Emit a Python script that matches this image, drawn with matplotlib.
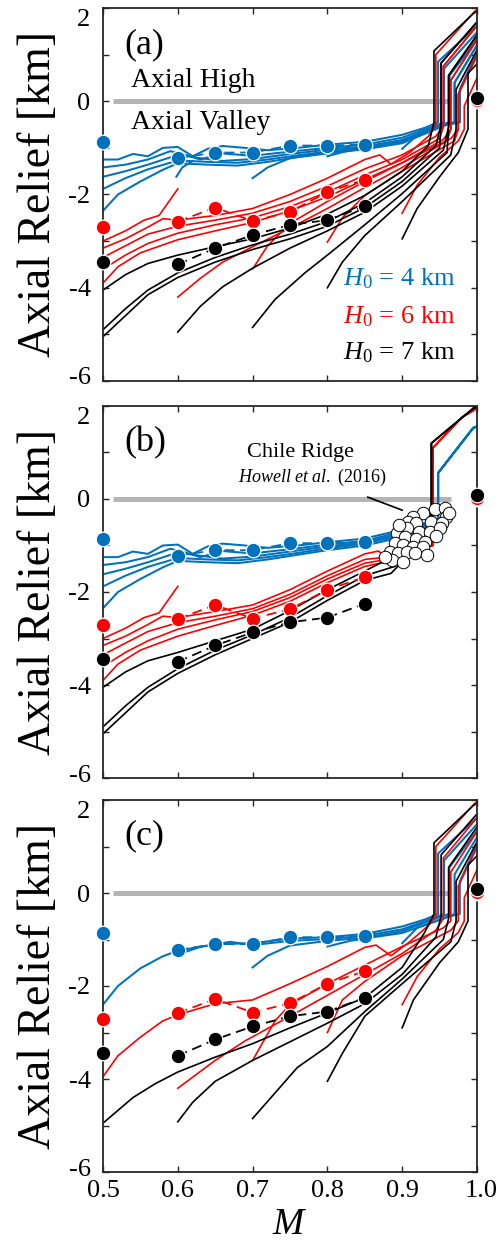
import matplotlib
matplotlib.use('Agg')
import matplotlib.pyplot as plt
from matplotlib.ticker import FixedLocator, FuncFormatter
from matplotlib.transforms import ScaledTranslation

plt.rcParams['font.family'] = ['Liberation Serif', 'DejaVu Serif']
plt.rcParams['mathtext.fontset'] = 'custom'
plt.rcParams['mathtext.rm'] = 'Liberation Serif'
plt.rcParams['mathtext.it'] = 'Liberation Serif:italic'

BLUE = '#0072BD'
RED = '#FF0000'
BLACK = '#000000'
GRAY = '#B4B4B4'

# ---------------- markers (same in all panels) ----------------
marker_M = [0.5, 0.6, 0.65, 0.7, 0.75, 0.8, 0.85]
blue_marker_R = [-0.87, -1.22, -1.10, -1.10, -0.95, -0.95, -0.93]
red_marker_R = [-2.70, -2.58, -2.28, -2.57, -2.37, -1.95, -1.68]
black_marker_R = [-3.45, -3.50, -3.15, -2.87, -2.65, -2.55, -2.25]
end_M = 1.0
end_blue_R = 0.00
end_red_R = 0.03
end_black_R = 0.08

# ---------------- tails (jump to axial high) ----------------
blu_tail_1 = [(0.948, -0.45), (0.948, 0.85), (1.0, 1.62)]
blu_tail_2 = [(0.956, -0.45), (0.956, 0.70), (1.0, 1.48)]
blu_tail_3 = [(0.963, -0.45), (0.963, 0.55), (1.0, 1.34)]
blu_tail_4 = [(0.970, -0.45), (0.970, 0.40), (1.0, 1.20)]
blu_tail_5 = [(0.977, -0.45), (0.977, 0.25), (1.0, 1.05)]
red_tail_1 = [(0.945, -0.50), (0.945, 1.00), (0.997, 1.93), (1.0, 1.96)]
red_tail_2 = [(0.955, -0.55), (0.955, 0.75), (1.0, 1.62)]
red_tail_3 = [(0.965, -0.60), (0.965, 0.45), (1.0, 1.32)]
red_tail_4 = [(0.975, -0.60), (0.975, 0.15), (1.0, 0.98)]
red_tail_5 = [(0.983, -0.60), (0.983, -0.10), (1.0, 0.50)]
blk_tail_1 = [(0.9425, -0.45), (0.9425, 1.08), (0.995, 1.88), (1.0, 1.93)]
blk_tail_2 = [(0.952, -0.50), (0.952, 0.82), (1.0, 1.70)]
blk_tail_3 = [(0.962, -0.55), (0.962, 0.55), (1.0, 1.42)]
blk_tail_4 = [(0.972, -0.60), (0.972, 0.25), (1.0, 1.10)]
blk_tail_5 = [(0.988, -0.60), (0.988, 0.60), (1.0, 0.80)]
blu_tail_b = [(0.948, -0.42), (0.948, 0.56), (0.995, 1.53), (1.0, 1.56)]
red_tail_b = [(0.941, -1.00), (0.941, 1.10), (0.98, 1.76), (1.0, 1.95)]
blk_tail_b = [(0.939, -0.80), (0.939, 1.20), (0.995, 1.95), (1.0, 1.98)]

# ---------------- panel (a) ----------------
a_blue_1 = [(0.50, -1.25), (0.52, -1.25), (0.54, -1.13), (0.56, -1.18), (0.58, -1.00), (0.60, -0.98), (0.62, -1.18), (0.64, -1.02), (0.66, -0.96), (0.69, -1.00), (0.72, -1.05), (0.76, -1.00), (0.80, -0.93), (0.85, -0.87), (0.90, -0.72), (0.93, -0.57)]
a_blue_2 = [(0.50, -1.42), (0.53, -1.36), (0.56, -1.25), (0.59, -1.07), (0.61, -1.15), (0.63, -1.25), (0.66, -1.12), (0.70, -1.17), (0.75, -1.08), (0.80, -1.00), (0.85, -0.93), (0.90, -0.78), (0.94, -0.55)]
a_blue_3 = [(0.50, -1.62), (0.53, -1.50), (0.56, -1.36), (0.60, -1.15), (0.63, -1.22), (0.66, -1.28), (0.70, -1.24), (0.75, -1.13), (0.80, -1.04), (0.85, -0.97), (0.90, -0.83), (0.95, -0.52)]
a_blue_4 = [(0.50, -1.88), (0.53, -1.65), (0.56, -1.46), (0.60, -1.27), (0.64, -1.30), (0.68, -1.32), (0.72, -1.25), (0.76, -1.16), (0.80, -1.08), (0.85, -1.00), (0.90, -0.87), (0.955, -0.50)]
a_blue_5 = [(0.50, -2.35), (0.52, -2.00), (0.55, -1.72), (0.58, -1.47), (0.60, -1.33), (0.64, -1.36), (0.68, -1.38), (0.72, -1.30), (0.76, -1.20), (0.80, -1.12), (0.85, -1.03), (0.90, -0.90), (0.96, -0.50)]
a_blue_6 = [(0.70, -1.65), (0.72, -1.42), (0.75, -1.22), (0.80, -1.10), (0.85, -1.02), (0.90, -0.88), (0.95, -0.55)]
a_blue_7 = [(0.80, -1.18), (0.83, -1.05), (0.86, -0.97), (0.90, -0.86), (0.955, -0.52)]
a_blue_8 = [(0.90, -1.02), (0.915, -0.80), (0.93, -0.62), (0.96, -0.50)]
a_blue_9 = [(0.598, -1.62), (0.606, -1.42), (0.62, -1.28)]

a_red_1 = [(0.50, -3.00), (0.53, -2.78), (0.555, -2.55), (0.575, -2.45), (0.60, -1.88)]
a_red_2 = [(0.50, -3.15), (0.53, -2.95), (0.56, -2.70), (0.58, -2.52), (0.60, -2.55), (0.65, -2.45), (0.70, -2.30), (0.75, -2.00), (0.80, -1.65), (0.85, -1.25), (0.87, -1.15), (0.885, -1.35), (0.91, -1.10), (0.935, -0.75)]
a_red_3 = [(0.50, -3.35), (0.53, -3.10), (0.56, -2.85), (0.60, -2.68), (0.65, -2.55), (0.70, -2.40), (0.75, -2.15), (0.80, -1.82), (0.85, -1.45), (0.90, -1.15), (0.945, -0.75)]
a_red_4 = [(0.50, -3.60), (0.53, -3.30), (0.56, -3.05), (0.60, -2.83), (0.65, -2.65), (0.70, -2.50), (0.75, -2.26), (0.80, -1.95), (0.85, -1.58), (0.90, -1.25), (0.95, -0.80)]
a_red_5 = [(0.50, -3.90), (0.52, -3.55), (0.55, -3.25), (0.60, -2.97), (0.65, -2.78), (0.70, -2.60), (0.75, -2.35), (0.80, -2.05), (0.85, -1.68), (0.90, -1.32), (0.955, -0.82)]
a_red_6 = [(0.60, -4.20), (0.63, -3.80), (0.66, -3.45), (0.70, -3.12), (0.75, -2.72), (0.80, -2.30), (0.85, -1.85), (0.90, -1.42), (0.96, -0.85)]
a_red_7 = [(0.70, -3.60), (0.72, -3.10), (0.75, -2.62), (0.80, -2.15), (0.85, -1.72), (0.90, -1.32), (0.965, -0.80)]
a_red_8 = [(0.80, -3.02), (0.82, -2.50), (0.85, -2.02), (0.90, -1.50), (0.97, -0.85)]
a_red_9 = [(0.90, -2.40), (0.92, -1.80), (0.95, -1.20), (0.975, -0.85)]

a_black_1 = [(0.50, -4.05), (0.53, -3.72), (0.56, -3.48), (0.60, -3.30), (0.65, -3.12), (0.70, -2.95), (0.75, -2.72), (0.80, -2.42), (0.85, -2.02), (0.90, -1.50), (0.935, -0.95)]
a_black_2 = [(0.50, -4.90), (0.53, -4.45), (0.56, -4.05), (0.60, -3.68), (0.65, -3.35), (0.70, -3.08), (0.75, -2.85), (0.80, -2.58), (0.85, -2.18), (0.90, -1.62), (0.945, -0.95)]
a_black_3 = [(0.50, -5.05), (0.53, -4.60), (0.56, -4.15), (0.60, -3.78), (0.65, -3.45), (0.70, -3.18), (0.75, -2.95), (0.80, -2.68), (0.85, -2.28), (0.90, -1.72), (0.95, -1.00)]
a_black_4 = [(0.60, -4.95), (0.63, -4.40), (0.66, -3.98), (0.70, -3.58), (0.75, -3.15), (0.80, -2.78), (0.85, -2.38), (0.90, -1.82), (0.955, -1.05)]
a_black_5 = [(0.70, -4.85), (0.73, -4.25), (0.77, -3.68), (0.80, -3.30), (0.85, -2.65), (0.90, -1.98), (0.96, -1.10)]
a_black_6 = [(0.80, -4.00), (0.82, -3.45), (0.85, -2.88), (0.90, -2.15), (0.965, -1.15)]
a_black_7 = [(0.90, -2.95), (0.92, -2.30), (0.95, -1.62), (0.975, -1.10)]

# ---------------- panel (b) ----------------
b_blue_1 = [(0.50, -1.25), (0.52, -1.25), (0.54, -1.13), (0.56, -1.18), (0.58, -1.00), (0.60, -0.98), (0.62, -1.18), (0.64, -1.02), (0.66, -0.96), (0.69, -1.00), (0.72, -1.05), (0.76, -1.00), (0.80, -0.93), (0.85, -0.85), (0.90, -0.66), (0.93, -0.52)]
b_blue_2 = [(0.50, -1.42), (0.53, -1.36), (0.56, -1.25), (0.59, -1.07), (0.61, -1.15), (0.63, -1.25), (0.66, -1.12), (0.70, -1.17), (0.75, -1.08), (0.80, -0.98), (0.85, -0.90), (0.90, -0.70), (0.93, -0.55)]
b_blue_3 = [(0.50, -1.62), (0.53, -1.50), (0.56, -1.36), (0.60, -1.15), (0.63, -1.22), (0.66, -1.28), (0.70, -1.24), (0.75, -1.13), (0.80, -1.02), (0.85, -0.93), (0.90, -0.74), (0.93, -0.57)]
b_blue_4 = [(0.50, -1.88), (0.53, -1.65), (0.56, -1.46), (0.60, -1.27), (0.64, -1.30), (0.68, -1.32), (0.72, -1.25), (0.76, -1.16), (0.80, -1.06), (0.85, -0.96), (0.90, -0.78), (0.93, -0.60)]
b_blue_5 = [(0.50, -2.35), (0.52, -2.00), (0.55, -1.72), (0.58, -1.47), (0.60, -1.33), (0.64, -1.36), (0.68, -1.38), (0.72, -1.30), (0.76, -1.20), (0.80, -1.10), (0.85, -1.00), (0.90, -0.82), (0.93, -0.62)]

b_red_1 = [(0.50, -3.00), (0.53, -2.78), (0.555, -2.55), (0.575, -2.45), (0.60, -1.88)]
b_red_2 = [(0.50, -3.15), (0.53, -2.95), (0.56, -2.70), (0.58, -2.52), (0.60, -2.55), (0.65, -2.42), (0.70, -2.28), (0.75, -1.95), (0.80, -1.55), (0.85, -1.18), (0.868, -1.12), (0.88, -1.25), (0.91, -1.10), (0.94, -1.00)]
b_red_3 = [(0.50, -3.35), (0.53, -3.10), (0.56, -2.85), (0.60, -2.66), (0.65, -2.52), (0.70, -2.36), (0.75, -2.05), (0.80, -1.65), (0.85, -1.30), (0.88, -1.25), (0.91, -1.12), (0.94, -1.00)]
b_red_4 = [(0.50, -3.60), (0.53, -3.30), (0.56, -3.05), (0.60, -2.80), (0.65, -2.60), (0.70, -2.42), (0.75, -2.12), (0.80, -1.72), (0.85, -1.38), (0.88, -1.30), (0.91, -1.15), (0.94, -1.00)]
b_red_5 = [(0.50, -3.90), (0.52, -3.55), (0.55, -3.25), (0.60, -2.95), (0.65, -2.72), (0.70, -2.50), (0.75, -2.20), (0.80, -1.80), (0.85, -1.45), (0.88, -1.35), (0.91, -1.18), (0.94, -1.00)]

b_black_1 = [(0.50, -4.05), (0.53, -3.72), (0.56, -3.48), (0.60, -3.30), (0.65, -3.05), (0.70, -2.80), (0.75, -2.40), (0.80, -1.95), (0.85, -1.55), (0.88, -1.30), (0.91, -1.10), (0.94, -0.80)]
b_black_2 = [(0.50, -4.90), (0.53, -4.45), (0.56, -4.05), (0.60, -3.65), (0.65, -3.25), (0.70, -2.92), (0.75, -2.55), (0.80, -2.08), (0.85, -1.65), (0.89, -1.45), (0.91, -1.15), (0.94, -0.85)]
b_black_3 = [(0.50, -5.05), (0.53, -4.60), (0.56, -4.15), (0.60, -3.75), (0.65, -3.35), (0.70, -3.00), (0.75, -2.65), (0.80, -2.18), (0.85, -1.75), (0.885, -1.60), (0.90, -1.35), (0.94, -0.90)]

chile_M = [0.944, 0.957, 0.959, 0.928, 0.915, 0.908, 0.919, 0.939, 0.953, 0.906, 0.922, 0.937, 0.951, 0.893, 0.904, 0.919, 0.930, 0.890, 0.901, 0.915, 0.928, 0.884, 0.895, 0.906, 0.917, 0.886, 0.901, 0.877, 0.945, 0.933, 0.962, 0.896]
chile_R = [-0.22, -0.20, -0.38, -0.30, -0.39, -0.49, -0.52, -0.49, -0.52, -0.63, -0.70, -0.70, -0.63, -0.74, -0.81, -0.85, -0.92, -0.95, -0.99, -1.03, -1.03, -1.13, -1.17, -1.13, -1.17, -1.31, -1.35, -1.24, -0.80, -1.20, -0.30, -0.55]

# ---------------- panel (c) ----------------
c_blue_1 = [(0.50, -2.40), (0.52, -2.00), (0.55, -1.62), (0.58, -1.36), (0.60, -1.24), (0.65, -1.10), (0.70, -1.08), (0.75, -0.98), (0.80, -0.95), (0.85, -0.88), (0.90, -0.72), (0.93, -0.57)]
c_blue_2 = [(0.60, -1.32), (0.63, -1.16), (0.67, -1.05), (0.70, -1.12), (0.75, -1.03), (0.80, -0.99), (0.85, -0.92), (0.90, -0.78), (0.94, -0.55)]
c_blue_3 = [(0.70, -1.60), (0.72, -1.35), (0.75, -1.13), (0.80, -1.03), (0.85, -0.96), (0.90, -0.82), (0.95, -0.52)]
c_blue_4 = [(0.80, -1.15), (0.83, -1.03), (0.87, -0.93), (0.90, -0.86), (0.955, -0.55)]
c_blue_5 = [(0.90, -1.08), (0.92, -0.75), (0.96, -0.52)]

c_red_1 = [(0.50, -3.95), (0.52, -3.50), (0.55, -3.10), (0.58, -2.75), (0.60, -2.62), (0.65, -2.38), (0.70, -2.30), (0.75, -1.95), (0.80, -1.58), (0.85, -1.17), (0.865, -1.12), (0.885, -1.35), (0.91, -1.05), (0.935, -0.70)]
c_red_2 = [(0.60, -4.20), (0.65, -3.60), (0.69, -3.18), (0.75, -2.65), (0.80, -2.20), (0.85, -1.75), (0.90, -1.30), (0.945, -0.80)]
c_red_3 = [(0.70, -3.60), (0.73, -2.75), (0.75, -2.40), (0.80, -1.95), (0.85, -1.55), (0.90, -1.15), (0.955, -0.75)]
c_red_4 = [(0.80, -3.00), (0.82, -2.30), (0.85, -1.90), (0.90, -1.35), (0.965, -0.80)]
c_red_5 = [(0.90, -2.40), (0.92, -1.80), (0.95, -1.20), (0.975, -0.85)]

c_black_1 = [(0.50, -4.95), (0.54, -4.40), (0.57, -4.10), (0.60, -3.85), (0.65, -3.53), (0.70, -3.24), (0.75, -2.90), (0.80, -2.58), (0.85, -2.25), (0.90, -1.60), (0.93, -0.85)]
c_black_2 = [(0.60, -4.92), (0.62, -4.50), (0.65, -4.05), (0.70, -3.60), (0.75, -3.20), (0.80, -2.80), (0.85, -2.38), (0.90, -1.75), (0.945, -0.95)]
c_black_3 = [(0.70, -4.85), (0.73, -4.30), (0.76, -3.75), (0.80, -3.30), (0.85, -2.55), (0.90, -1.85), (0.955, -1.00)]
c_black_4 = [(0.80, -4.05), (0.82, -3.45), (0.85, -2.65), (0.90, -1.95), (0.965, -1.05)]
c_black_5 = [(0.90, -2.90), (0.915, -2.30), (0.95, -1.50), (0.975, -1.05)]

# ---------------- assemble ----------------
panel_a = [
    (BLUE, [a_blue_1 + blu_tail_1, a_blue_2 + blu_tail_2, a_blue_3 + blu_tail_3,
            a_blue_4 + blu_tail_4, a_blue_5 + blu_tail_5, a_blue_6 + blu_tail_3,
            a_blue_7 + blu_tail_4, a_blue_8 + blu_tail_5, a_blue_9]),
    (RED, [a_red_1, a_red_2 + red_tail_1, a_red_3 + red_tail_2, a_red_4 + red_tail_2,
           a_red_5 + red_tail_3, a_red_6 + red_tail_3, a_red_7 + red_tail_4,
           a_red_8 + red_tail_4, a_red_9 + red_tail_5]),
    (BLACK, [a_black_1 + blk_tail_1, a_black_2 + blk_tail_2, a_black_3 + blk_tail_2,
             a_black_4 + blk_tail_3, a_black_5 + blk_tail_3, a_black_6 + blk_tail_4,
             a_black_7 + blk_tail_5]),
]
panel_b = [
    (BLUE, [b_blue_1 + blu_tail_b, b_blue_2 + blu_tail_b, b_blue_3 + blu_tail_b,
            b_blue_4 + blu_tail_b, b_blue_5 + blu_tail_b]),
    (RED, [b_red_1, b_red_2 + red_tail_b, b_red_3 + red_tail_b, b_red_4 + red_tail_b,
           b_red_5 + red_tail_b]),
    (BLACK, [b_black_1 + blk_tail_b, b_black_2 + blk_tail_b, b_black_3 + blk_tail_b]),
]
panel_c = [
    (BLUE, [c_blue_1 + blu_tail_1, c_blue_2 + blu_tail_2, c_blue_3 + blu_tail_3,
            c_blue_4 + blu_tail_4, c_blue_5 + blu_tail_5]),
    (RED, [c_red_1 + red_tail_1, c_red_2 + red_tail_2, c_red_3 + red_tail_3,
           c_red_4 + red_tail_4, c_red_5 + red_tail_5]),
    (BLACK, [c_black_1 + blk_tail_1, c_black_2 + blk_tail_2, c_black_3 + blk_tail_3,
             c_black_4 + blk_tail_4, c_black_5 + blk_tail_5]),
]

fig = plt.figure(figsize=(4.99, 12.49), dpi=100)
left, width = 103 / 499, 374 / 499
rects = [(1 - 381 / 1249, 373 / 1249), (1 - 778 / 1249, 372 / 1249), (1 - 1172 / 1249, 372 / 1249)]
panels = [panel_a, panel_b, panel_c]
letters = ['(a)', '(b)', '(c)']


def fmt_y(v, pos):
    return '%d' % v if int(v) % 2 == 0 else ''


for i, (bottom, height) in enumerate(rects):
    ax = fig.add_axes([left, bottom, width, height])
    ax.set_xlim(0.5, 1.0)
    ax.set_ylim(-6, 2)
    ax.plot([0.513, 0.965], [0, 0], color=GRAY, lw=3.6, solid_capstyle='butt', zorder=1)
    for color, curves in panels[i]:
        lw = 1.45 if color == BLUE else 1.2
        for cv in curves:
            ax.plot([p[0] for p in cv], [p[1] for p in cv], color=color, lw=lw, zorder=2,
                    solid_joinstyle='round')
    for color, vals, endv in [(BLUE, blue_marker_R, end_blue_R), (RED, red_marker_R, end_red_R),
                              (BLACK, black_marker_R, end_black_R)]:
        ax.plot(marker_M[1:], vals[1:], color=color, lw=1.3, ls=(0, (5.5, 3.2)), zorder=3)
        ax.plot(marker_M + [end_M], vals + [endv], ls='none', marker='o', ms=10.5,
                mfc=color, mec='white', mew=0.9, zorder=4, clip_on=False)
    if i == 1:
        ax.plot(chile_M, chile_R, ls='none', marker='o', ms=9.0, mfc='white', mec='black',
                mew=0.7, zorder=5)
        ax.plot([0.854, 0.900], [0.04, -0.24], color='black', lw=1.2, zorder=5)
        ax.text(0.6925, 0.99, 'Chile Ridge', fontsize=16, ha='left', va='center')
        ax.text(0.680, 0.47, r'$\mathit{Howell\ et\ al.}$ (2016)', fontsize=13, ha='left', va='center')
    if i == 0:
        ax.text(0.537, 0.45, 'Axial High', fontsize=20, ha='left', va='center')
        ax.text(0.537, -0.45, 'Axial Valley', fontsize=20, ha='left', va='center')
        ax.text(0.9706, -3.80, r'$\mathit{H}_{0}$ = 4 km', color=BLUE, fontsize=19, ha='right', va='center')
        ax.text(0.9706, -4.63, r'$\mathit{H}_{0}$ = 6 km', color=RED, fontsize=19, ha='right', va='center')
        ax.text(0.9706, -5.40, r'$\mathit{H}_{0}$ = 7 km', color=BLACK, fontsize=19, ha='right', va='center')
    ax.text(0.529, 1.22, letters[i], fontsize=26, ha='left', va='center')

    ax.yaxis.set_major_locator(FixedLocator([-6, -5, -4, -3, -2, -1, 0, 1, 2]))
    ax.yaxis.set_major_formatter(FuncFormatter(fmt_y))
    ax.xaxis.set_major_locator(FixedLocator([0.5, 0.6, 0.7, 0.8, 0.9, 1.0]))
    ax.tick_params(direction='in', length=4, width=1.0, top=True, right=True,
                   labelsize=19, color='#262626', pad=9)
    ax.tick_params(axis='x', pad=6)
    if i < 2:
        ax.set_xticklabels([])
    else:
        ax.set_xticklabels(['0.5', '0.6', '0.7', '0.8', '0.9', '1.0'])
        ax.set_xlabel(r'$\mathit{M}$', fontsize=27, labelpad=4)
    for s in ax.spines.values():
        s.set_linewidth(1.3)
        s.set_color('#262626')
    ax.set_ylabel('Axial Relief [km]', fontsize=33, labelpad=6)

    # the outermost tick labels sit slightly inside the frame in the original
    yt = ax.yaxis.get_major_ticks()
    yt[-1].label1.set_transform(yt[-1].label1.get_transform()
                                + ScaledTranslation(0, -0.10, fig.dpi_scale_trans))
    yt[0].label1.set_transform(yt[0].label1.get_transform()
                               + ScaledTranslation(0, 0.05, fig.dpi_scale_trans))
    if i == 2:
        xt = ax.xaxis.get_major_ticks()
        xt[-1].label1.set_transform(xt[-1].label1.get_transform()
                                    + ScaledTranslation(0.04, 0, fig.dpi_scale_trans))

fig.savefig('out.png', dpi=100)
